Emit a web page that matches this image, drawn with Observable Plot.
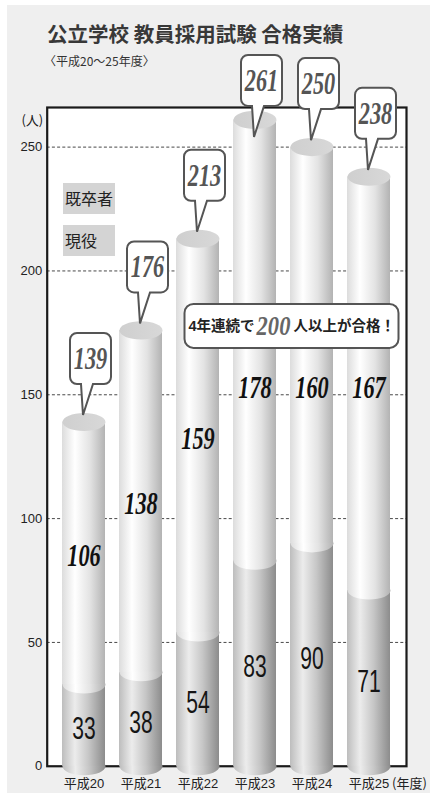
<!DOCTYPE html>
<html>
<head>
<meta charset="utf-8">
<script src="https://cdn.jsdelivr.net/npm/d3@7"></script>
<script src="https://cdn.jsdelivr.net/npm/@observablehq/plot@0.6"></script>
<style>
html,body{margin:0;padding:0;background:#fff;}
#wrap{position:relative;width:430px;height:802px;overflow:hidden;}
#panel{position:absolute;left:7px;top:5px;width:423px;height:788px;background:#efefef;}
#chart{position:absolute;left:0;top:0;}
.t{position:absolute;font-family:"Noto Sans CJK JP",sans-serif;color:#333;white-space:nowrap;line-height:1;}
#title{left:47px;top:23px;font-size:20.5px;font-weight:700;color:#383838;}
#subtitle{left:44px;top:55px;font-size:12px;color:#333;}
.key{position:absolute;left:63px;width:52px;height:31px;background:#d4d4d4;font-family:"Noto Sans CJK JP",sans-serif;font-size:16px;line-height:31px;color:#222;padding-left:2px;box-sizing:border-box;white-space:nowrap;}
</style>
</head>
<body>
<div id="wrap">
  <div id="panel"></div>
  <div id="chart"></div>
  <div id="title" class="t"></div>
  <div id="subtitle" class="t"></div>
  <div id="key1" class="key" style="top:183px"></div>
  <div id="key2" class="key" style="top:225px"></div>
</div>
<script>
// ---- data ----
const titleText = "公立学校 教員採用試験 合格実績";
const subtitleText = "〈平成20～25年度〉";
const years = ["平成20", "平成21", "平成22", "平成23", "平成24", "平成25"];
const genekiCounts = [33, 38, 54, 83, 90, 71];          // 現役 (lower segment)
const kisotsuCounts = [106, 138, 159, 178, 160, 167];   // 既卒者 (upper segment)
const totals = [139, 176, 213, 261, 250, 238];
const yTicks = [0, 50, 100, 150, 200, 250];
const seriesNames = ["既卒者", "現役"];
const yUnit = "(人)";
const xUnit = "(年度)";
const noteParts = ["4年連続で", "200", "人以上が合格！"];

document.getElementById("title").textContent = titleText;
document.getElementById("subtitle").textContent = subtitleText;
document.getElementById("key1").textContent = seriesNames[0];
document.getElementById("key2").textContent = seriesNames[1];

const rows = years.map((year, i) => ({year, low: genekiCounts[i], high: kisotsuCounts[i], total: totals[i]}));

// ---- custom symbols ----
const ellipse = {
  draw(ctx, size) {
    const rx = Math.sqrt(size / Math.PI), ry = rx * 0.42, k = 0.5523;
    ctx.moveTo(rx, 0);
    ctx.bezierCurveTo(rx, ry * k, rx * k, ry, 0, ry);
    ctx.bezierCurveTo(-rx * k, ry, -rx, ry * k, -rx, 0);
    ctx.bezierCurveTo(-rx, -ry * k, -rx * k, -ry, 0, -ry);
    ctx.bezierCurveTo(rx * k, -ry, rx, -ry * k, rx, 0);
    ctx.closePath();
  }
};
const callout = {
  draw(ctx) {
    const L = -14, R = 27, T = -89, B = -38, rr = 7, bl = -3, br = 9, tx = -1, ty = -7;
    ctx.moveTo(L + rr, T);
    ctx.lineTo(R - rr, T); ctx.arcTo(R, T, R, T + rr, rr);
    ctx.lineTo(R, B - rr); ctx.arcTo(R, B, R - rr, B, rr);
    ctx.lineTo(br, B); ctx.lineTo(tx, ty); ctx.lineTo(bl, B);
    ctx.lineTo(L + rr, B); ctx.arcTo(L, B, L, B - rr, rr);
    ctx.lineTo(L, T + rr); ctx.arcTo(L, T, L + rr, T, rr);
    ctx.closePath();
  }
};
const noteBox = {
  draw(ctx) {
    const w = 214, h = 44, rr = 9, L = -w / 2, R = w / 2, T = -h / 2, B = h / 2;
    ctx.moveTo(L + rr, T);
    ctx.lineTo(R - rr, T); ctx.arcTo(R, T, R, T + rr, rr);
    ctx.lineTo(R, B - rr); ctx.arcTo(R, B, R - rr, B, rr);
    ctx.lineTo(L + rr, B); ctx.arcTo(L, B, L, B - rr, rr);
    ctx.lineTo(L, T + rr); ctx.arcTo(L, T, L + rr, T, rr);
    ctx.closePath();
  }
};

const W = 430, H = 802, mL = 46.7, mR = 24, mT = 107, mB = 36.25;
const pIn = 0.248, pOut = 0.27;
const step = (W - mL - mR) / (years.length - pIn + 2 * pOut);
const radius = step * (1 - pIn) / 2;
const lifted = d => d.total > 255;     // callout lowered to avoid the title
const labelCap = 154;                  // keep upper labels below the note box
const serif = "'Liberation Serif', 'Times New Roman', serif";
const sans = "'Liberation Sans', Arial, 'Noto Sans CJK JP', sans-serif";
const cjk = "'Noto Sans CJK JP', sans-serif";
const noteAt = {year: "平成23", value: 177.8, dx: 36.5};

const chart = Plot.plot({
  width: W, height: H,
  marginTop: mT, marginRight: mR, marginBottom: mB, marginLeft: mL,
  style: {background: "transparent", fontFamily: sans, fontSize: "13px", color: "#222", overflow: "visible"},
  x: {domain: years, paddingInner: pIn, paddingOuter: pOut, tickSize: 0, tickPadding: 13, label: null},
  y: {domain: [0, 266], ticks: yTicks, tickSize: 0, tickPadding: 5, label: null},
  marks: [
    Plot.frame({fill: "white", stroke: "none"}),
    Plot.ruleY(yTicks.filter(t => t > 0), {stroke: "#333", strokeWidth: 0.9, strokeDasharray: "3,2.2"}),
    Plot.frame({stroke: "#1a1a1a", strokeWidth: 2.2}),
    // lower cylinder (現役)
    Plot.dot(rows, {x: "year", y: () => 0, symbol: ellipse, r: radius, fill: "url(#gLow)"}),
    Plot.barY(rows, {x: "year", y1: () => 0, y2: "low", fill: "url(#gLow)"}),
    // upper cylinder (既卒者)
    Plot.dot(rows, {x: "year", y: "low", symbol: ellipse, r: radius, fill: "url(#gHigh)"}),
    Plot.barY(rows, {x: "year", y1: "low", y2: "total", fill: "url(#gHigh)"}),
    Plot.dot(rows, {x: "year", y: "total", symbol: ellipse, r: radius, fill: "url(#gCap)"}),
    // segment labels
    Plot.text(rows, {x: "year", y: d => d.low / 2, text: "low", dy: 4, fontSize: 31, fontFamily: sans, fill: "#151515"}),
    Plot.text(rows, {x: "year", y: d => Math.min((d.low + d.total) / 2, labelCap), text: "high", dy: 3, fontSize: 31, fontFamily: serif, fontWeight: "bold", fontStyle: "italic", fill: "#111"}),
    // total callouts
    Plot.dot(rows, {filter: d => !lifted(d), x: "year", y: "total", symbol: callout, r: 1, fill: "white", stroke: "#555", strokeWidth: 2}),
    Plot.dot(rows, {filter: lifted, x: "year", y: "total", dy: 24, symbol: callout, r: 1, fill: "white", stroke: "#555", strokeWidth: 2}),
    Plot.text(rows, {filter: d => !lifted(d), x: "year", y: "total", text: "total", dx: 6.5, dy: -63, fontSize: 31, fontFamily: serif, fontWeight: "bold", fontStyle: "italic", fill: "#555"}),
    Plot.text(rows, {filter: lifted, x: "year", y: "total", text: "total", dx: 6.5, dy: -39, fontSize: 31, fontFamily: serif, fontWeight: "bold", fontStyle: "italic", fill: "#555"}),
    // note
    Plot.dot([noteAt], {x: "year", y: "value", dx: noteAt.dx, symbol: noteBox, r: 1, fill: "white", stroke: "#555", strokeWidth: 2}),
    Plot.text([noteAt], {x: "year", y: "value", dx: noteAt.dx - 37, text: () => noteParts[0], textAnchor: "end", fontSize: 14.5, fontWeight: "bold", fontFamily: sans, fill: "#222"}),
    Plot.text([noteAt], {x: "year", y: "value", dx: noteAt.dx - 18, dy: 1, text: () => noteParts[1], fontSize: 26.5, fontWeight: "bold", fontStyle: "italic", fontFamily: serif, fill: "#666"}),
    Plot.text([noteAt], {x: "year", y: "value", dx: noteAt.dx + 2, text: () => noteParts[2], textAnchor: "start", fontSize: 14.5, fontWeight: "bold", fontFamily: cjk, fill: "#222"}),
    // units
    Plot.text([yUnit], {text: d => d, frameAnchor: "top-left", dx: -4, dy: 8, textAnchor: "end", fontSize: 13, fontFamily: cjk, fill: "#222"}),
    Plot.text([xUnit], {x: () => years[years.length - 1], y: () => 0, text: d => d, dx: 23, dy: 17.5, textAnchor: "start", fontSize: 13, fontFamily: cjk, fill: "#222"})
  ]
});

const ns = "http://www.w3.org/2000/svg";
const defs = document.createElementNS(ns, "defs");
defs.innerHTML = `
<linearGradient id="gLow" x1="0" x2="1" y1="0" y2="0">
  <stop offset="0" stop-color="#bdbdbd"/><stop offset="0.3" stop-color="#ececec"/>
  <stop offset="0.62" stop-color="#c6c6c6"/><stop offset="1" stop-color="#8c8c8c"/>
</linearGradient>
<linearGradient id="gHigh" x1="0" x2="1" y1="0" y2="0">
  <stop offset="0" stop-color="#dcdcdc"/><stop offset="0.3" stop-color="#ffffff"/>
  <stop offset="0.65" stop-color="#e3e3e3"/><stop offset="1" stop-color="#b3b3b3"/>
</linearGradient>
<linearGradient id="gCap" x1="0" x2="1" y1="0" y2="0">
  <stop offset="0" stop-color="#cfcfcf"/><stop offset="1" stop-color="#d8d8d8"/>
</linearGradient>`;
chart.insertBefore(defs, chart.firstChild);
document.getElementById("chart").appendChild(chart);

// condensed look for the big numerals
chart.querySelectorAll("text").forEach(t => {
  const cs = getComputedStyle(t);
  const fs = parseFloat(cs.fontSize);
  if (fs < 25) return;
  const italic = cs.fontStyle === "italic";
  const f = fs < 28 ? 0.85 : (italic ? 0.72 : 0.68);
  const w = t.getComputedTextLength();
  if (w > 0) {
    t.setAttribute("textLength", (w * f).toFixed(2));
    t.setAttribute("lengthAdjust", "spacingAndGlyphs");
  }
});
</script>
</body>
</html>
